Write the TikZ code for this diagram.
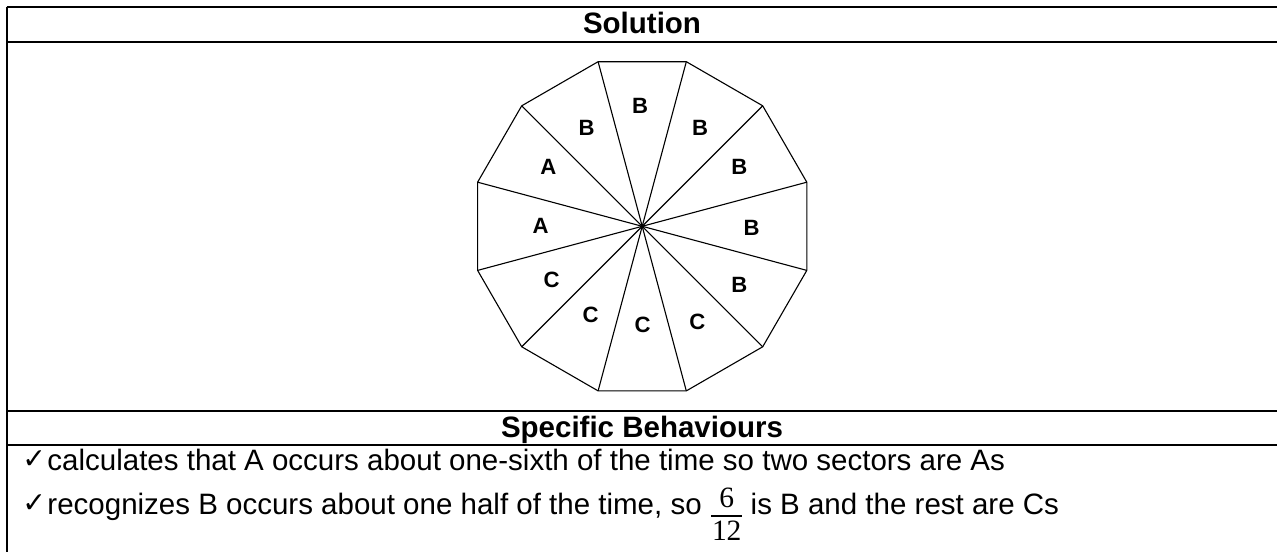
\documentclass[tikz,border=0pt]{standalone}
\usepackage{fontspec}
\usetikzlibrary{calc}
\setmainfont{Liberation Sans}
\newfontfamily\tnr{Liberation Serif}
\newfontfamily\dvs{DejaVu Sans}
\begin{document}
\begin{tikzpicture}[x=0.4068pt,y=-0.4068pt,
  rule/.style={line width=0.7pt},
  edgeline/.style={line width=0.45pt},
  lab/.style={font=\bfseries\fontsize{9}{10}\selectfont, inner sep=0pt},
  head/.style={font=\bfseries\fontsize{12}{14}\selectfont, inner sep=0pt, anchor=base},
  itemtext/.style={font=\fontsize{12}{14}\selectfont, inner sep=0pt, anchor=base west},
  numtext/.style={font=\tnr\fontsize{12}{14}\selectfont, inner sep=0pt, anchor=base},
  chk/.style={font=\dvs\fontsize{11.5}{13}\selectfont, inner sep=0pt, anchor=base west}]
\useasboundingbox (0,0) rectangle (1277,552);
% table rules
\coordinate (l0) at (6.7,7);   \coordinate (r0) at (1277,7);
\coordinate (l1) at (6.7,42);  \coordinate (r1) at (1277,42);
\coordinate (l2) at (6.7,411); \coordinate (r2) at (1277,411);
\coordinate (l3) at (6.7,445); \coordinate (r3) at (1277,445);
\coordinate (lb) at (6.7,552);
\draw[rule] (l0) -- (r0);
\draw[rule] (l1) -- (r1);
\draw[rule] (l2) -- (r2);
\draw[rule] (l3) -- (r3);
\draw[rule] (l0) -- (lb);
% headers
\node[head] (sol) at (642,34) {Solution};
\node[head] (spec) at (642,438) {Specific Behaviours};
% dodecagon
\coordinate (c) at (642.2,226.3);
\foreach \k in {0,...,11}{
  \coordinate (v\k) at ($(c)+(15+30*\k:170.4)$);
}
\draw[edgeline] (v0) \foreach \k in {1,...,11}{ -- (v\k)} -- cycle;
\foreach \k in {0,...,11}{
  \draw[edgeline] (c) -- (v\k);
}
% sector labels
\node[lab] (s90)  at (640,106)   {B};
\node[lab] (s120) at (586.7,128.3) {B};
\node[lab] (s60)  at (700,128.3) {B};
\node[lab] (s150) at (548.3,167.3) {A};
\node[lab] (s30)  at (739.3,167.3) {B};
\node[lab] (s180) at (540.7,225.7) {A};
\node[lab] (s0)   at (751.7,228.3) {B};
\node[lab] (s210) at (551.7,280) {C};
\node[lab] (s330) at (739.3,285) {B};
\node[lab] (s240) at (590.7,315) {C};
\node[lab] (s270) at (642.7,325) {C};
\node[lab] (s300) at (697.3,321.7) {C};
% behaviours
\node[chk] (c1) at (22,469) {✓};
\node[itemtext] (t1) at (47,471) {calculates that A occurs about one-sixth of the time so two sectors are As};
\node[chk] (c2) at (22,513) {✓};
\node[itemtext] (t2a) at (47,515) {recognizes B occurs about one half of the time, so};
\coordinate (fb0) at ($(t2a.base east)+(9,1)$);
\coordinate (fb1) at ($(fb0)+(31,0)$);
\draw[line width=0.55pt] (fb0) -- (fb1);
\node[numtext] (num) at ($(fb0)!0.5!(fb1)+(0,-8)$) {6};
\node[numtext] (den) at ($(fb0)!0.5!(fb1)+(0,25)$) {12};
\node[itemtext] (t2b) at ($(t2a.base east)+(48,0)$) {is B and the rest are Cs};
\end{tikzpicture}
\end{document}
